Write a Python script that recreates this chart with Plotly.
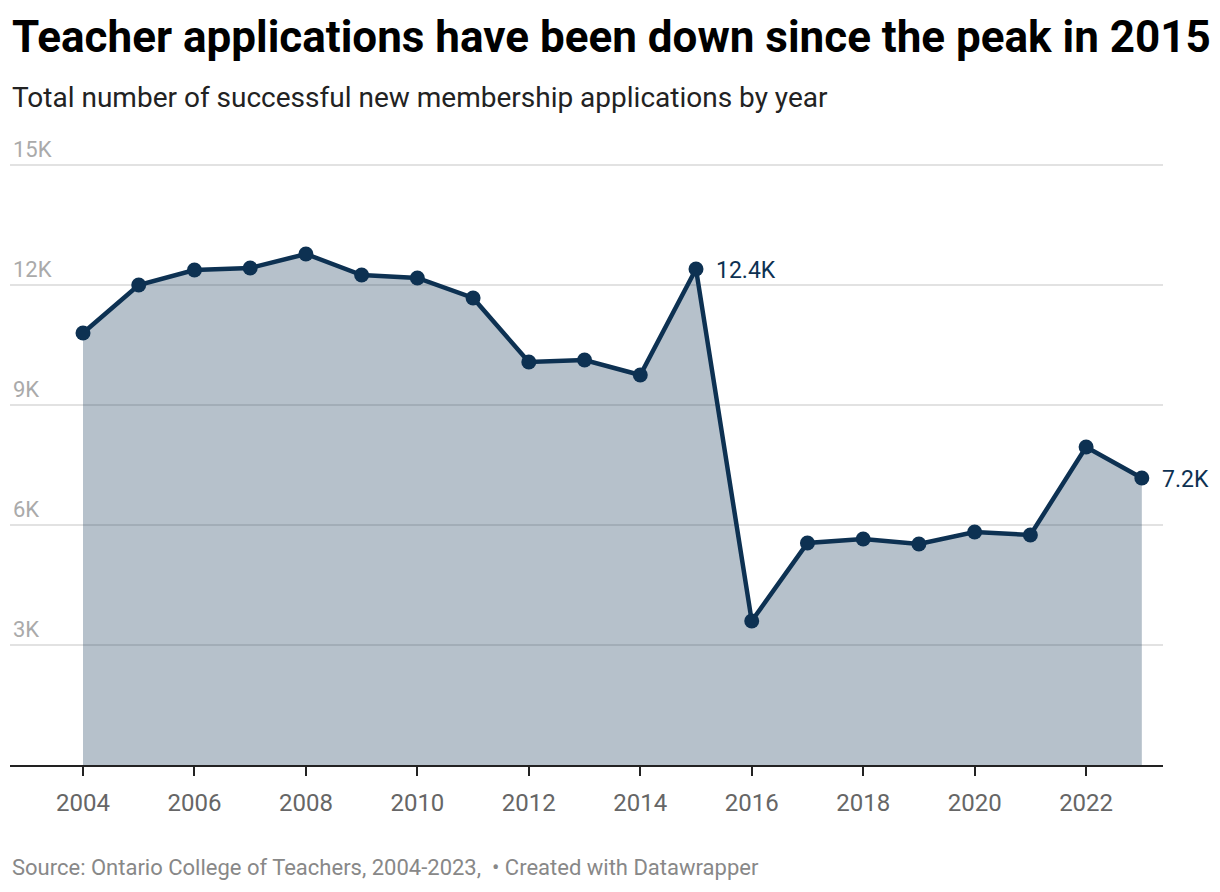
import plotly.graph_objects as go

years = list(range(2004, 2024))
applications = [10800, 12000, 12375, 12425, 12775, 12250, 12175, 11675, 10075, 10125,
                9750, 12400, 3600, 5550, 5650, 5525, 5825, 5750, 7950, 7175]
label_years = [2015, 2023]
label_texts = ["12.4K", "7.2K"]
y_tickvals = [3000, 6000, 9000, 12000, 15000]
y_ticktext = ["3K", "6K", "9K", "12K", "15K"]
x_tickvals = list(range(2004, 2023, 2))

LINE = "#0d3152"
FONT = "Roboto"

fig = go.Figure()
fig.add_trace(go.Scatter(
    x=years, y=applications, mode="lines+markers",
    line=dict(color=LINE, width=4.5),
    marker=dict(color=LINE, size=15),
    fill="tozeroy", fillcolor="rgba(13,49,82,0.30)",
    hoverinfo="skip", showlegend=False,
))

annos = []
for yr, txt in zip(label_years, label_texts):
    annos.append(dict(x=yr, y=applications[years.index(yr)], text=txt,
                      xanchor="left", yanchor="middle", xshift=18, yshift=-1, showarrow=False,
                      font=dict(family=FONT, size=23, color=LINE)))

annos += [
    dict(text="<b>Teacher applications have been down since the peak in 2015</b>",
         xref="paper", yref="paper", x=0, y=1, xanchor="left", yanchor="middle",
         yshift=88, showarrow=False, font=dict(family=FONT, size=44, color="#000")),
    dict(text="Total number of successful new membership applications by year",
         xref="paper", yref="paper", x=0, y=1, xanchor="left", yanchor="middle",
         yshift=28, showarrow=False, font=dict(family=FONT, size=28, color="#222")),
    dict(text="Source: Ontario College of Teachers, 2004-2023,  • Created with Datawrapper",
         xref="paper", yref="paper", x=0, y=0, xanchor="left", yanchor="middle",
         yshift=-102, showarrow=False, font=dict(family=FONT, size=22, color="#888")),
]

fig.update_layout(
    width=1212, height=884,
    margin=dict(l=2, r=57, t=117, b=127),
    paper_bgcolor="white", plot_bgcolor="white",
    font=dict(family=FONT),
    annotations=annos,
)

fig.update_xaxes(range=[2002.69, 2023.38], tickvals=x_tickvals,
                 ticks="outside", ticklen=9, tickwidth=2, tickcolor="#222",
                 showline=True, linecolor="#222", linewidth=2,
                 showgrid=False, zeroline=False, ticklabelstandoff=6,
                 tickfont=dict(family=FONT, size=24, color="#666"))
fig.update_yaxes(range=[0, 16000], tickvals=y_tickvals, ticktext=y_ticktext,
                 ticklabelposition="inside top", showgrid=True, gridcolor="#e2e2e2",
                 gridwidth=2, zeroline=False, showline=False, ticks="",
                 tickfont=dict(family=FONT, size=22, color="#aaa"))

fig.write_html("out.html")
